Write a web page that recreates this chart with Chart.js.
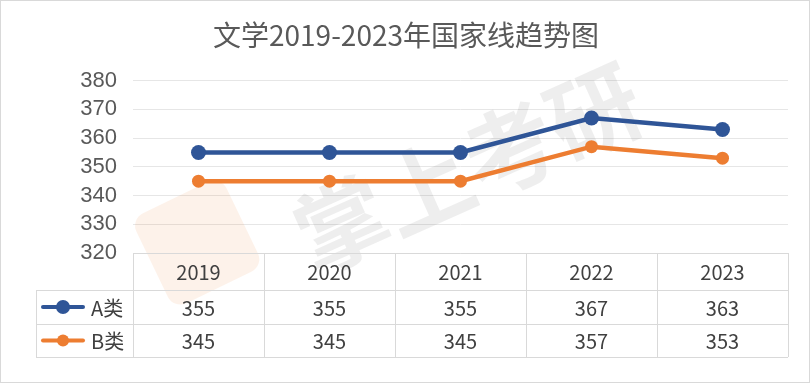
<!DOCTYPE html>
<html lang="zh-CN">
<head>
<meta charset="UTF-8">
<title>文学2019-2023年国家线趋势图</title>
<script src="https://cdn.jsdelivr.net/npm/chart.js@4.4.0/dist/chart.umd.min.js"></script>
<style>
    html, body { margin: 0; padding: 0; background: #fff; }
    #wrap { width: 812px; height: 384px; position: relative; }
</style>
</head>
<body>
<div id="wrap"><canvas id="chart" width="812" height="384"></canvas></div>
<script>
const years = ['2019', '2020', '2021', '2022', '2023'];
const seriesA = [355, 355, 355, 367, 363];
const seriesB = [345, 345, 345, 357, 353];
const seriesNames = ['A类', 'B类'];
const yTicks = [320, 330, 340, 350, 360, 370, 380];

const BLUE = '#2F5597';
const ORANGE = '#ED7D31';
const FONT = '"Noto Sans CJK SC", "Noto Sans", sans-serif';

// watermark behind the lines
const watermark = {
    id: 'watermark',
    beforeDatasetsDraw(chart) {
        const ctx = chart.ctx;
        ctx.save();
        ctx.globalAlpha = 0.10;
        ctx.fillStyle = ORANGE;
        ctx.translate(195, 238);
        ctx.rotate(-0.45);
        ctx.beginPath();
        ctx.roundRect(-50, -45, 100, 100, 14);
        ctx.fill();
        ctx.restore();

        ctx.save();
        ctx.globalAlpha = 0.10;
        ctx.fillStyle = '#555';
        ctx.font = 'bold 92px ' + FONT;
        ctx.textAlign = 'center';
        ctx.textBaseline = 'middle';
        ctx.translate(468, 168);
        ctx.rotate(-0.42);
        ctx.fillText('掌上考研', 0, 0);
        ctx.restore();
    }
};

// excel style data table under the plot
const dataTable = {
    id: 'dataTable',
    afterDraw(chart) {
        const ctx = chart.ctx;
        const x = chart.scales.x;
        const area = chart.chartArea;
        const left = area.left, right = area.right;
        const colW = (right - left) / years.length;
        const top = area.bottom;
        const rows = [top, top + 37, top + 71, top + 104];
        const legendLeft = 36;

        ctx.save();
        ctx.strokeStyle = '#d9d9d9';
        ctx.lineWidth = 1;
        ctx.beginPath();
        ctx.moveTo(left, rows[0] + 0.5); ctx.lineTo(right, rows[0] + 0.5);
        for (let r = 1; r < rows.length; r++) {
            ctx.moveTo(legendLeft, rows[r] + 0.5); ctx.lineTo(right, rows[r] + 0.5);
        }
        for (let c = 0; c <= years.length; c++) {
            const cx = Math.round(left + c * colW) + 0.5;
            ctx.moveTo(cx, rows[0]); ctx.lineTo(cx, rows[3]);
        }
        ctx.moveTo(legendLeft + 0.5, rows[1]); ctx.lineTo(legendLeft + 0.5, rows[3]);
        ctx.stroke();

        ctx.font = '20px ' + FONT;
        ctx.fillStyle = '#404040';
        ctx.textAlign = 'center';
        ctx.textBaseline = 'middle';
        years.forEach((yr, i) => {
            const cx = x.getPixelForValue(i);
            ctx.fillText(yr, cx, (rows[0] + rows[1]) / 2 + 1);
            ctx.fillText(String(seriesA[i]), cx, (rows[1] + rows[2]) / 2 + 1);
            ctx.fillText(String(seriesB[i]), cx, (rows[2] + rows[3]) / 2 + 1);
        });

        // legend keys
        const keys = [[BLUE, 7], [ORANGE, 6]];
        keys.forEach((k, i) => {
            const cy = (rows[i + 1] + rows[i + 2]) / 2;
            ctx.strokeStyle = k[0];
            ctx.fillStyle = k[0];
            ctx.lineWidth = 4;
            ctx.lineCap = 'round';
            ctx.beginPath();
            ctx.moveTo(43, cy); ctx.lineTo(83, cy);
            ctx.stroke();
            ctx.beginPath();
            ctx.arc(63, cy, k[1], 0, Math.PI * 2);
            ctx.fill();
            ctx.fillStyle = '#404040';
            ctx.textAlign = 'left';
            ctx.fillText(seriesNames[i], 91, cy + 1);
        });

        // outer frame
        ctx.strokeStyle = '#d9d9d9';
        ctx.lineWidth = 1;
        ctx.strokeRect(0.5, 0.5, chart.width - 3, chart.height - 2);
        ctx.restore();
    }
};

new Chart(document.getElementById('chart'), {
    type: 'line',
    data: {
        labels: years,
        datasets: [
            {
                label: seriesNames[0],
                data: seriesA,
                borderColor: BLUE,
                backgroundColor: BLUE,
                borderWidth: 4.5,
                pointRadius: 7.5,
                pointHoverRadius: 7.5,
                pointBorderWidth: 0
            },
            {
                label: seriesNames[1],
                data: seriesB,
                borderColor: ORANGE,
                backgroundColor: ORANGE,
                borderWidth: 4.5,
                pointRadius: 6.5,
                pointHoverRadius: 6.5,
                pointBorderWidth: 0
            }
        ]
    },
    options: {
        responsive: false,
        animation: false,
        layout: { padding: { left: 24, right: 24, top: 0, bottom: 131 } },
        plugins: {
            legend: { display: false },
            tooltip: { enabled: false },
            title: {
                display: true,
                text: '文学2019-2023年国家线趋势图',
                color: '#595959',
                font: { family: FONT, size: 28, weight: 'normal' },
                padding: { top: 19, bottom: 28 }
            }
        },
        scales: {
            x: {
                display: false,
                offset: true
            },
            y: {
                min: 320,
                max: 380,
                afterFit(scale) { scale.width = 109; },
                afterBuildTicks(scale) { scale.ticks = yTicks.map(v => ({ value: v })); },
                border: { display: false },
                grid: { color: '#e6e6e6', drawTicks: false },
                ticks: {
                    autoSkip: false,
                    color: '#595959',
                    padding: 16,
                    font: { family: '"Liberation Sans", Arial, sans-serif', size: 22, lineHeight: 1 }
                }
            }
        }
    },
    plugins: [watermark, dataTable]
});
</script>
</body>
</html>
